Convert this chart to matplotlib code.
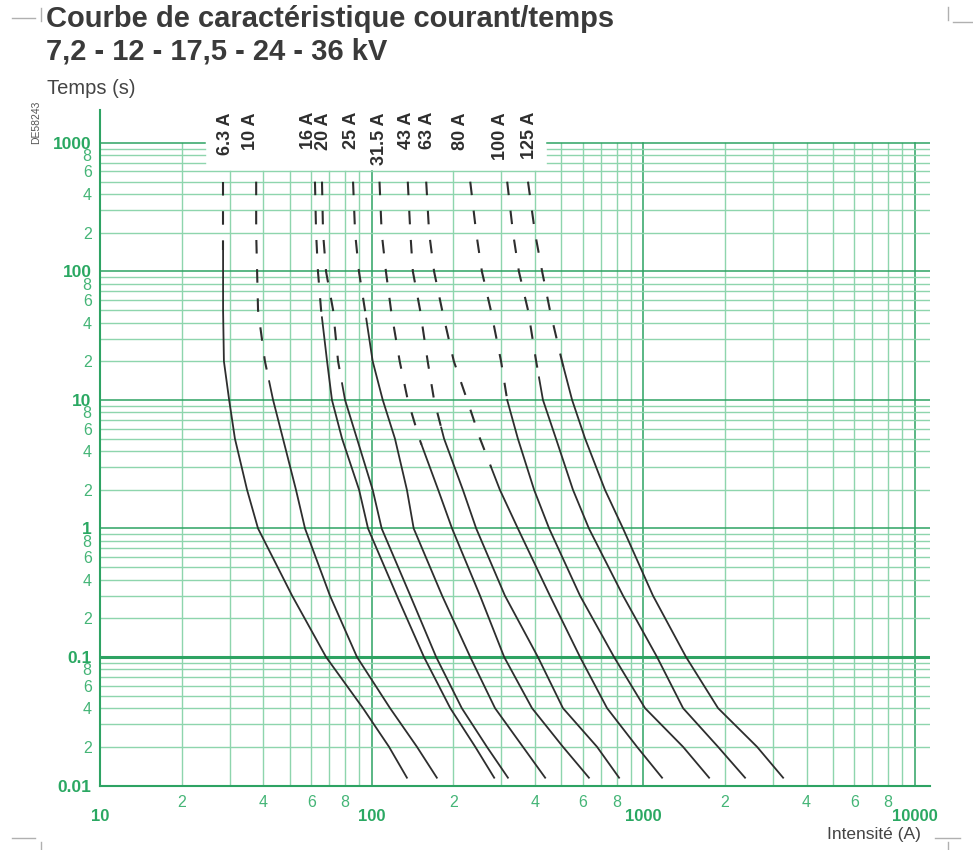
import matplotlib.pyplot as plt
import numpy as np
from matplotlib.lines import Line2D

plt.rcParams['font.family'] = ['Liberation Sans', 'DejaVu Sans']

# fuse ratings, and the times (s) at which each curve's current was read
fuse_labels = ['6.3 A', '10 A', '16 A', '20 A', '25 A', '31.5 A',
               '43 A', '63 A', '80 A', '100 A', '125 A']
time_levels = [500, 200, 100, 50, 20, 10, 5, 2, 1, 0.3, 0.1, 0.04, 0.02, 0.0115]

# current (A) of each curve at the time levels above
i_6_3 = [28.4, 28.4, 28.4, 28.4, 28.6, 29.9, 31.4, 34.8, 38.2, 51.0, 68.0, 93.0, 116, 135]
i_10 = [37.6, 37.6, 37.9, 38.2, 40.5, 43.4, 47.2, 52.7, 56.9, 70.3, 88.4, 117, 147, 174]
i_16 = [61.9, 62.5, 63.5, 65.2, 68.6, 71.5, 77.9, 90.0, 97.1, 124, 156, 195, 241, 283]
i_20 = [65.7, 66.3, 68.0, 72.2, 75.3, 79.9, 88.4, 101, 109, 139, 173, 215, 266, 318]
i_25 = [85.5, 87.0, 89.9, 94.6, 101, 110, 122, 135, 143, 182, 231, 285, 361, 436]
i_31_5 = [107, 109, 113, 118, 127, 136, 150, 176, 198, 251, 308, 390, 507, 632]
i_43 = [136, 139, 142, 151, 161, 170, 185, 217, 243, 310, 410, 507, 677, 816]
i_63 = [159, 163, 170, 182, 201, 225, 251, 297, 346, 454, 586, 737, 950, 1175]
i_80 = [231, 243, 255, 275, 300, 316, 346, 397, 451, 586, 782, 1017, 1404, 1751]
i_100 = [316, 332, 349, 377, 404, 428, 478, 552, 632, 844, 1126, 1404, 1889, 2375]
i_125 = [377, 400, 425, 454, 503, 548, 612, 724, 844, 1088, 1440, 1889, 2630, 3280]
curves = [i_6_3, i_10, i_16, i_20, i_25, i_31_5, i_43, i_63, i_80, i_100, i_125]

# time (s) below which each curve is drawn solid (dashed above)
solid_from = [147, 14, 44, 13.5, 43, 4.5, 6.1, 3.0, 10, 15, 18]

# small horizontal nudges of the rotated labels, in points
label_dx = [2, -4, -5, 1, -1, 0, -1, 1, -7, -5, 1]

green_minor = '#8ed5ad'
green_major = '#2ea363'
green_text = '#2aa862'
ink = '#2e2e2e'

fig = plt.figure(figsize=(9.73, 8.5), dpi=100)
ax = fig.add_axes([100 / 973, (850 - 785.5) / 850, 830 / 973, (785.5 - 110) / 850])
ax.set_xscale('log')
ax.set_yscale('log')
ax.set_xlim(10, 11400)
ax.set_ylim(0.01, 1806)

# grid, leaving room for the fuse labels at the top
gap_lo, gap_hi = 24.4, 443
x_lines = [k * d for d in [10, 100, 1000] for k in range(1, 10)] + [10000]
for xv in x_lines[1:]:
    top = 600 if gap_lo < xv < gap_hi else 1000
    major = xv in (100, 1000, 10000)
    ax.plot([xv, xv], [0.01, top], color=green_major if major else green_minor,
            lw=1.1 if major else 1.0, zorder=1)
y_lines = [k * d for d in [0.01, 0.1, 1, 10, 100] for k in range(1, 10)] + [1000]
for yv in y_lines[1:]:
    major = yv in (0.1, 1, 10, 100, 1000)
    col = green_major if major else green_minor
    lw = 2.2 if yv == 0.1 else (1.1 if major else 1.0)
    if yv > 600:
        ax.plot([10, gap_lo], [yv, yv], color=col, lw=lw, zorder=1)
        ax.plot([gap_hi, 11400], [yv, yv], color=col, lw=lw, zorder=1)
    else:
        ax.plot([10, 11400], [yv, yv], color=col, lw=lw, zorder=1)

# fuse curves: dashed in the upper part, solid below
logt = np.log10(time_levels)[::-1]
for cur, ts in zip(curves, solid_from):
    logi = np.log10(cur)[::-1]
    li_s = np.interp(np.log10(ts), logt, logi)
    t = np.array(time_levels)
    c = np.array(cur, dtype=float)
    up = t > ts
    ax.plot(np.r_[c[up], 10 ** li_s], np.r_[t[up], ts], color=ink, lw=1.5,
            dashes=(6.5, 7.5), zorder=3)
    ax.plot(np.r_[10 ** li_s, c[~up]], np.r_[ts, t[~up]], color=ink, lw=1.3,
            zorder=3, solid_joinstyle='round')

for lab, cur, dx in zip(fuse_labels, curves, label_dx):
    ax.annotate(lab, xy=(cur[0], 0.997), xycoords=ax.get_xaxis_transform(),
                xytext=(dx, 0), textcoords='offset points', rotation=90,
                ha='center', va='top', fontsize=13, fontweight='bold', color=ink)

for s in ['top', 'right']:
    ax.spines[s].set_visible(False)
for s in ['left', 'bottom']:
    ax.spines[s].set_color(green_major)
    ax.spines[s].set_linewidth(1.5)

# tick labels
ax.set_xticks([10, 100, 1000, 10000])
ax.set_xticklabels(['10', '100', '1000', '10000'], fontweight='bold', fontsize=12)
x_minor = [k * d for d in [10, 100, 1000] for k in (2, 4, 6, 8)]
ax.set_xticks(x_minor, minor=True)
ax.set_xticklabels(['2', '4', '6', '8'] * 3, minor=True, fontsize=11.5)
ax.tick_params(axis='x', which='major', length=0, pad=17, colors=green_text)
ax.tick_params(axis='x', which='minor', length=0, pad=7, colors='#45b577')

ax.set_yticks([0.01, 0.1, 1, 10, 100, 1000])
ax.set_yticklabels(['0.01', '0.1', '1', '10', '100', '1000'], fontweight='bold', fontsize=12.5)
y_minor = [k * d for d in [0.01, 0.1, 1, 10, 100] for k in (2, 4, 6, 8)]
ax.set_yticks(y_minor, minor=True)
ax.set_yticklabels(['2', '4', '6', '8'] * 5, minor=True, fontsize=11.5)
ax.tick_params(axis='y', which='major', length=0, pad=6, colors=green_text)
ax.tick_params(axis='y', which='minor', length=0, pad=6, colors='#45b577')

# titles and axis names
fig.text(46 / 973, 1 - 19 / 850, 'Courbe de caractéristique courant/temps',
         fontsize=21, fontweight='bold', color='#3a3a3a', va='center', ha='left')
fig.text(46 / 973, 1 - 51 / 850, '7,2 - 12 - 17,5 - 24 - 36 kV',
         fontsize=21, fontweight='bold', color='#3a3a3a', va='center', ha='left')
fig.text(47 / 973, 1 - 88 / 850, 'Temps (s)', fontsize=14.5, color='#444444',
         va='center', ha='left')
fig.text(921 / 973, 1 - 834 / 850, 'Intensité (A)', fontsize=12.5, color='#444444',
         va='center', ha='right')
fig.text(36 / 973, 1 - 122 / 850, 'DE58243', fontsize=7.5, color='#555555',
         rotation=90, va='center', ha='center')

# crop marks in the corners
def mark(xs, ys):
    fig.add_artist(Line2D([x / 973 for x in xs], [1 - y / 850 for y in ys],
                          transform=fig.transFigure, color='#b0b0b0', lw=1.0))

mark([12, 35], [18, 18])
mark([41, 41], [8, 21])
mark([948, 948], [7, 20])
mark([953, 973], [22, 22])
mark([12, 35], [838, 838])
mark([41, 41], [842, 850])
mark([935, 960], [838, 838])
mark([948, 948], [842, 850])

fig.savefig('out.png', dpi=100, facecolor='white')
